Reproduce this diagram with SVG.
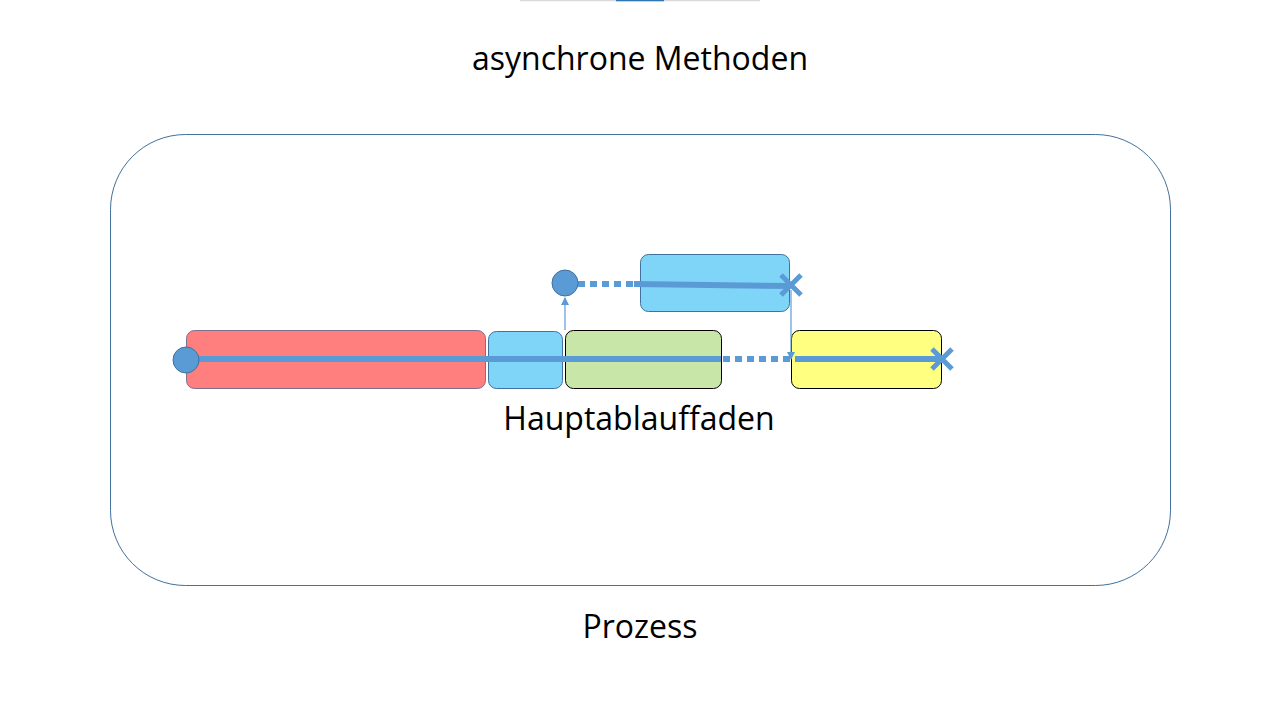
<svg xmlns="http://www.w3.org/2000/svg" width="1280" height="720" viewBox="0 0 1280 720">
<defs>
<style>
.t{font-family:"Open Sans","Liberation Sans",sans-serif;font-size:32px;fill:#000;text-anchor:middle}
.box{stroke-width:1}
.thick{stroke:#5B9BD5;stroke-width:6;fill:none}
.dash{stroke:#5B9BD5;stroke-width:6;fill:none;stroke-dasharray:7 5}
.thin{stroke:#5B9BD5;stroke-width:1.2;fill:none}
.dot{fill:#5B9BD5;stroke:#41719C;stroke-width:1}
</style>
<marker id="ah" markerWidth="8" markerHeight="8" refX="7" refY="4" orient="auto" markerUnits="userSpaceOnUse">
<path d="M0,0 L8,4 L0,8 z" fill="#5B9BD5"/>
</marker>
</defs>
<rect width="1280" height="720" fill="#fff"/>
<g id="topbar">
<line x1="520" y1="0.5" x2="760" y2="0.5" stroke="#d9d9d9" stroke-width="1.5"/>
<line x1="616" y1="0.5" x2="664" y2="0.5" stroke="#2e75b6" stroke-width="1.5"/>
</g>
<text class="t" x="640" y="70">asynchrone Methoden</text>
<g id="prozess">
<rect x="110.5" y="134.5" width="1060" height="451" rx="75" fill="none" stroke="#41719C" stroke-width="1"/>
<text class="t" x="640" y="638">Prozess</text>
</g>
<g id="red"><rect class="box" x="186.5" y="330.5" width="299" height="58" rx="8" fill="#FF7F7F" stroke="#7F6F8F"/></g>
<g id="blue1"><rect class="box" x="488.5" y="331.5" width="74" height="57" rx="8" fill="#7FD5F7" stroke="#41719C"/></g>
<g id="green"><rect class="box" x="565.5" y="330.5" width="156" height="58" rx="8" fill="#C9E6A9" stroke="#000"/></g>
<g id="yellow"><rect class="box" x="791.5" y="330.5" width="150" height="58" rx="8" fill="#FFFF80" stroke="#000"/></g>
<g id="blue2"><rect class="box" x="640.5" y="254.5" width="149" height="57" rx="8" fill="#7FD5F7" stroke="#41719C"/></g>
<g id="connectors">
<line class="thick" x1="186" y1="359" x2="721" y2="359"/>
<line class="dash" x1="723" y1="359" x2="790" y2="359"/>
<line class="thick" x1="795" y1="359" x2="942" y2="359"/>
<line class="dash" x1="578" y1="284" x2="634" y2="284"/>
<line class="thick" x1="634" y1="284" x2="790" y2="286"/>
<line class="thin" x1="565" y1="330" x2="565" y2="298" marker-end="url(#ah)"/>
<line class="thin" x1="791" y1="290" x2="791" y2="359" marker-end="url(#ah)"/>
<path d="M932,349 L952,369 M952,349 L932,369" stroke="#5B9BD5" stroke-width="5" fill="none"/>
<path d="M781,275 L801,295 M801,275 L781,295" stroke="#5B9BD5" stroke-width="5" fill="none"/>
</g>
<g id="start1"><circle class="dot" cx="186" cy="360" r="13"/></g>
<g id="start2"><circle class="dot" cx="565" cy="283" r="13"/></g>
<text class="t" x="639" y="430">Hauptablauffaden</text>
</svg>
